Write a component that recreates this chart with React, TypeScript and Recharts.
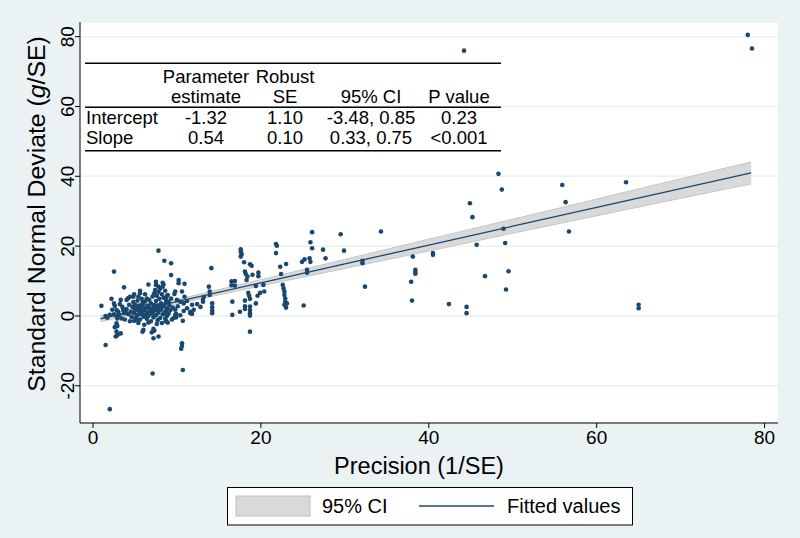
import React from 'react'
import { ComposedChart, Scatter, Line, Area, XAxis, YAxis, CartesianGrid } from 'recharts'

// [precision (1/SE), standard normal deviate (g/SE)]
const studies: [number, number][] = [
  [2.0, -26.7], [7.1, -16.5], [10.7, -15.5], [1.5, -8.3], [10.6, -7.8], [10.6, -8.6], [10.5, -9.4],
  [2.8, -4.5], [2.9, -5.5], [2.7, -5.9], [3.3, -5.0], [5.9, -4.5], [6.0, -4.0], [7.0, -4.7], [7.2, -3.7],
  [7.3, -4.2], [7.8, -5.9], [7.2, -6.4], [18.7, -4.5], [2.8, -2.1], [2.9, -2.9], [2.6, -3.2],
  [2.5, 12.7], [3.7, 8.2], [6.6, 9.0], [7.8, 18.7], [8.5, 15.8], [9.3, 15.1], [9.3, 11.7], [14.1, 13.7],
  [7.5, 9.8], [7.5, 8.9], [8.3, 9.5], [8.3, 8.4], [8.4, 9.0], [7.8, 8.4], [10.2, 10.3], [10.2, 9.4],
  [10.9, 9.2], [13.8, 8.4], [13.9, 7.0], [13.9, 6.0], [5.6, 7.2], [6.2, 6.2], [9.8, 7.0], [9.7, 6.3],
  [10.6, 7.0], [10.9, 5.5], [11.2, 4.3], [11.8, 3.2], [12.4, 3.4], [13.1, 4.6], [13.2, 5.4], [13.1, 4.1],
  [14.2, 3.6], [14.2, 2.5], [14.2, 1.5], [14.2, 0.8],
  [16.5, 9.9], [16.9, 10.0], [16.5, 8.8], [16.9, 8.7], [16.6, 4.1], [16.6, 0.3], [17.5, 1.2], [18.1, 2.8],
  [18.1, 2.0], [18.1, 4.4], [18.5, 6.6], [18.6, 5.8], [18.7, 4.9], [18.7, 2.7], [18.7, 1.7], [18.7, 0.8],
  [18.7, 0.1], [19.4, 3.6], [19.6, 5.8], [19.9, 6.6],
  [17.6, 19.1], [17.6, 18.4], [17.7, 17.7], [17.6, 17.0], [18.0, 15.4], [18.7, 14.8], [18.9, 14.4],
  [18.1, 12.7], [18.2, 12.0], [18.4, 11.3], [18.3, 10.3], [19.0, 11.8], [19.7, 12.4], [19.7, 11.4],
  [19.4, 8.6], [20.3, 8.9], [20.4, 7.0],
  [21.8, 20.6], [21.9, 20.1], [21.8, 18.0], [22.3, 14.1], [22.4, 12.0], [23.0, 14.9],
  [22.6, 8.9], [22.7, 7.9], [22.8, 7.0], [22.8, 6.0], [22.9, 5.0], [22.9, 4.1], [22.8, 3.2], [23.0, 2.4],
  [23.1, 3.6], [25.1, 3.0], [24.9, 15.5], [25.2, 16.2], [25.8, 16.5], [25.9, 15.5], [25.5, 13.2],
  [25.5, 12.4], [26.1, 24.0], [25.9, 21.1], [26.1, 19.4], [27.4, 19.0], [27.7, 16.5], [29.5, 23.4],
  [29.9, 18.7],
  [32.1, 15.8], [32.1, 15.1], [32.4, 8.4], [34.3, 24.2], [38.1, 17.0], [38.4, 13.2], [38.4, 12.6],
  [38.4, 12.1], [37.9, 9.8], [38.0, 4.4], [40.5, 18.0], [40.5, 17.5], [42.4, 3.4], [44.5, 2.6],
  [44.5, 0.8], [44.2, 76.0], [44.9, 32.3], [45.2, 28.3], [45.7, 20.4], [46.7, 11.4],
  [48.3, 40.7], [48.7, 36.2], [48.9, 25.0], [49.1, 20.9], [49.5, 12.8], [49.2, 7.6],
  [55.9, 37.5], [56.3, 32.6], [56.7, 24.2], [63.5, 38.3], [65.0, 2.2], [65.0, 3.2], [78.0, 80.5], [78.5, 76.6],
  [1.0, 2.9], [1.5, 0.0], [2.2, 4.9], [2.6, 2.9], [2.5, 0.5], [2.8, 0.0], [2.9, -0.7], [3.3, 4.6],
  [3.6, 1.7], [3.7, 0.8], [4.0, 4.6], [4.4, 5.5], [4.9, 6.2], [5.4, 5.5], [5.6, 6.5], [5.9, 3.8],
  [2.5, 3.6], [2.8, 1.7], [3.1, 0.3], [4.2, 5.1], [4.8, 5.5], [3.4, -0.7],
  [4.9, -1.4], [5.1, -1.1], [8.7, -1.6], [8.9, -1.9], [9.8, 0.3], [9.9, -0.4], [10.7, -1.4], [11.6, 0.8],
  [11.6, 1.2], [11.8, 0.6], [9.9, 0.6], [8.8, 0.0], [8.7, -1.4],
  [8.8, 5.7], [9.0, 4.1], [8.7, 3.8], [10.0, 4.6], [10.4, 4.1], [10.8, 3.6], [8.7, 1.5], [8.7, 0.9],
  [4.0, 2.0], [4.2, 0.5], [4.3, 3.2], [4.5, 1.2], [4.6, -0.3], [4.7, 2.6], [4.8, 4.0], [4.9, 0.8],
  [5.0, 1.9], [5.0, 3.3], [5.1, -0.5], [5.2, 2.4], [5.3, 0.2], [5.3, 4.4], [5.4, 1.5], [5.5, 3.0],
  [5.6, -1.0], [5.6, 2.0], [5.7, 0.6], [5.8, 4.9], [5.8, 1.1], [5.9, 2.7], [6.0, -0.2], [6.0, 3.5],
  [6.1, 1.6], [6.2, 0.3], [6.2, 4.2], [6.3, 2.2], [6.4, -0.8], [6.4, 5.0], [6.5, 1.0], [6.5, 3.0],
  [6.6, 0.0], [6.7, 2.5], [6.7, 4.6], [6.8, 1.4], [6.9, -1.5], [6.9, 3.6], [7.0, 0.6], [7.0, 2.0],
  [7.1, 5.6], [7.2, -0.4], [7.2, 1.2], [7.3, 3.1], [7.3, 6.5], [7.4, 2.3], [7.4, 7.4], [7.5, 0.2],
  [7.5, 4.3], [7.6, 1.6], [7.6, 5.8], [7.7, -1.2], [7.7, 3.0], [7.8, 6.9], [7.8, 0.9], [7.9, 2.4],
  [7.9, 4.9], [8.0, 7.8], [8.0, -0.6], [8.1, 1.8], [8.1, 3.6], [8.2, 6.2], [8.3, 0.4], [8.3, 2.6],
  [8.4, 5.2], [8.5, 1.0], [8.5, 3.2], [8.6, 7.2], [8.6, -0.8], [8.7, 4.6], [8.8, 2.2], [8.9, 6.0],
  [9.0, 0.6], [9.1, 3.0], [9.2, 1.6], [9.3, 5.0], [9.5, 2.4], [9.6, -0.6], [9.8, 1.8], [10.1, 2.8],
  [3.8, -1.0], [3.9, 1.0], [3.5, 2.6], [3.2, 3.4], [3.0, 1.2], [2.3, 1.8], [2.0, 0.3], [1.7, -0.5],
  [4.4, -1.5], [5.4, -2.0], [6.1, -2.5], [6.6, -1.9], [7.6, -2.3], [8.2, -2.0], [9.4, -1.0], [10.4, 0.2],
  [10.8, 1.4], [11.2, 2.2], [12.0, 1.8], [12.8, 2.6],
]

// fitted line and 95% CI read along the band
const fitX = [0.9, 10, 20, 30, 40, 50, 60, 70, 78.4]
const fitted = [-0.8, 4.1, 9.5, 14.9, 20.3, 25.7, 31.1, 36.5, 41.0]
const ciLower = [-1.7, 3.5, 8.6, 13.6, 18.6, 23.7, 28.7, 33.7, 37.8]
const ciUpper = [0.1, 4.7, 10.4, 16.2, 22.0, 27.7, 33.5, 39.3, 44.1]

const xTicks = [0, 20, 40, 60, 80]
const yTicks = [-20, 0, 20, 40, 60, 80]

const headRow1 = ['', 'Parameter', 'Robust', '', '']
const headRow2 = ['', 'estimate', 'SE', '95% CI', 'P value']
const tableRows = [
  ['Intercept', '-1.32', '1.10', '-3.48, 0.85', '0.23'],
  ['Slope', '0.54', '0.10', '0.33, 0.75', '<0.001'],
]

const NAVY = '#1a476f'
const BG = '#eaf2f3'
const FONT = '"Liberation Sans", Arial, Helvetica, sans-serif'

const points = studies.map(([x, y]) => ({ x, y }))
const fitData = fitX.map((x, i) => ({ x, fit: fitted[i], ci: [ciLower[i], ciUpper[i]] }))

const XTick = (props: any) => {
  const { x, payload } = props
  return (
    <text x={x} y={444} textAnchor="middle" fontSize={19} fill="#000" fontFamily={FONT}>
      {payload.value}
    </text>
  )
}

const YTick = (props: any) => {
  const { y, payload } = props
  return (
    <text x={74} y={y} transform={`rotate(-90, 74, ${y})`} textAnchor="middle" fontSize={19} fill="#000" fontFamily={FONT}>
      {payload.value}
    </text>
  )
}

const Dot = (props: any) => <circle cx={props.cx} cy={props.cy} r={2.3} fill={NAVY} />

const colX = [86, 206, 285, 371, 459]

function RegressionTable() {
  const cell = (text: string, col: number, y: number, key: string) => (
    <text key={key} x={colX[col]} y={y} textAnchor={col === 0 ? 'start' : 'middle'}>{text}</text>
  )
  return (
    <svg width={800} height={538} style={{ position: 'absolute', left: 0, top: 0, pointerEvents: 'none' }}>
      <g fontFamily={FONT} fontSize={18.5} fill="#000">
        <line x1={85} x2={501} y1={63.3} y2={63.3} stroke="#000" strokeWidth={1.5} />
        {headRow1.map((t, i) => cell(t, i, 83, 'a' + i))}
        {headRow2.map((t, i) => cell(t, i, 103, 'b' + i))}
        <line x1={85} x2={501} y1={107.3} y2={107.3} stroke="#000" strokeWidth={1.5} />
        {tableRows.map((row, r) => row.map((t, i) => cell(t, i, 124 + r * 20, 'r' + r + i)))}
        <line x1={85} x2={501} y1={150.7} y2={150.7} stroke="#000" strokeWidth={1.5} />
      </g>
    </svg>
  )
}

function LegendBox() {
  return (
    <svg width={800} height={538} style={{ position: 'absolute', left: 0, top: 0, pointerEvents: 'none' }}>
      <g fontFamily={FONT} fontSize={20} fill="#000">
        <rect x={227.5} y={487.5} width={405} height={37.5} fill="#fff" stroke="#000" strokeWidth={1} />
        <rect x={236} y={496} width={74} height={20} fill="#d9d9d9" stroke="#bdbdbd" strokeWidth={1} />
        <text x={322} y={513}>95% CI</text>
        <line x1={419} x2={494} y1={506} y2={506} stroke={NAVY} strokeWidth={1.4} />
        <text x={507} y={513}>Fitted values</text>
      </g>
    </svg>
  )
}

export default function App() {
  return (
    <div style={{ position: 'absolute', left: 0, top: 0, width: 800, height: 538, background: BG }}>
      <ComposedChart width={800} height={538} data={fitData} margin={{ top: 22, right: 22, bottom: 0, left: 0 }}>
        <CartesianGrid vertical={false} stroke={BG} strokeWidth={1.5} fill="#fff" fillOpacity={1} />
        <XAxis
          type="number"
          dataKey="x"
          domain={[-1.55, 81.6]}
          ticks={xTicks}
          interval={0}
          allowDataOverflow
          height={115}
          tickSize={5}
          axisLine={{ stroke: '#000', strokeWidth: 1 }}
          tickLine={{ stroke: '#000' }}
          tick={<XTick />}
          label={() => (
            <text x={419} y={474} textAnchor="middle" fontSize={23.5} fontFamily={FONT} fill="#000">
              Precision (1/SE)
            </text>
          )}
        />
        <YAxis
          type="number"
          domain={[-30.66, 84.2]}
          ticks={yTicks}
          interval={0}
          allowDataOverflow
          width={80}
          tickSize={5}
          axisLine={{ stroke: '#000', strokeWidth: 1 }}
          tickLine={{ stroke: '#000' }}
          tick={<YTick />}
          label={() => (
            <text x={-214} y={45} transform="rotate(-90)" textAnchor="middle" fontSize={24.8} fontFamily={FONT} fill="#000">
              Standard Normal Deviate (<tspan fontStyle="italic">g</tspan>/SE)
            </text>
          )}
        />
        <Area type="linear" dataKey="ci" fill="#d9d9d9" fillOpacity={1} stroke="#c6c6c6" strokeWidth={1} isAnimationActive={false} />
        <Line type="linear" dataKey="fit" stroke={NAVY} strokeWidth={1.3} dot={false} isAnimationActive={false} />
        <Scatter data={points} dataKey="y" fill={NAVY} shape={<Dot />} isAnimationActive={false} />
      </ComposedChart>
      <RegressionTable />
      <LegendBox />
    </div>
  )
}
